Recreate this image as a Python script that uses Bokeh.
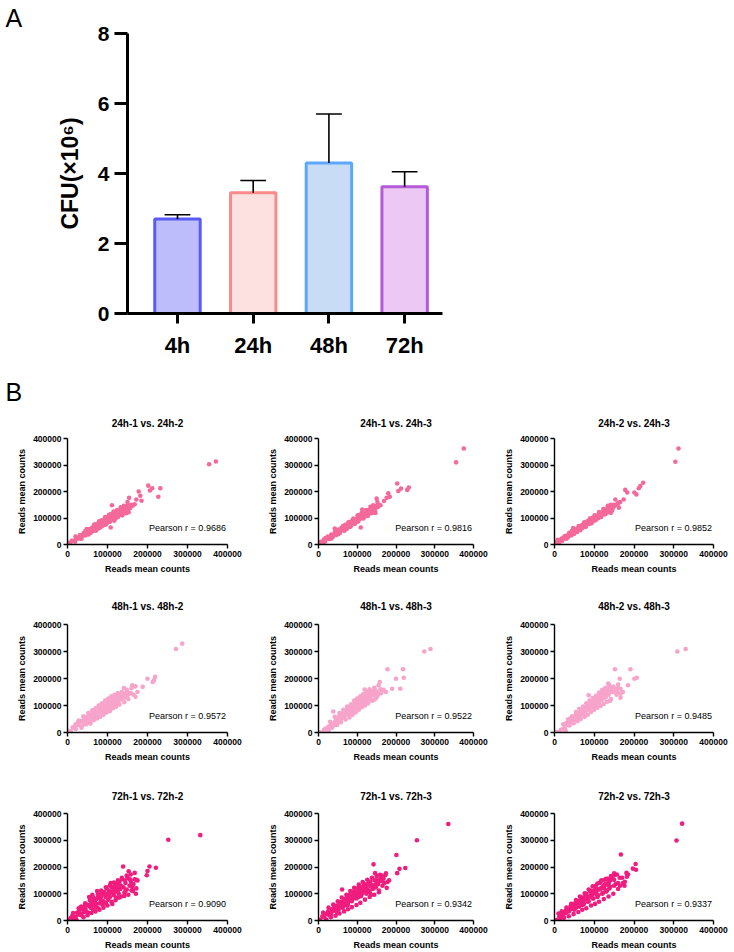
from bokeh.plotting import figure
from bokeh.layouts import column, row
from bokeh.models import ColumnDataSource, FixedTicker, BasicTickFormatter, Label, Range1d, Title
from bokeh.embed import file_html
from bokeh.resources import INLINE

FONT = "Liberation Sans"

# ---------------- Panel A: CFU per time point ----------------
times = ["4h", "24h", "48h", "72h"]
cfu_mean = [2.70, 3.45, 4.30, 3.62]      # x10^6
cfu_sd = [0.12, 0.35, 1.40, 0.43]
bar_fill = ["#bdbdfc", "#fde0e0", "#c9dcf5", "#ecc9f5"]
bar_line = ["#5a5af5", "#fb8a8a", "#5aa8fa", "#b55ad8"]

# ---------------- Panel B: replicate correlations (reads mean counts, in thousands) ----------------
pts_24h_1v2 = [(0,0),(4,6),(7,3),(11,15),(15,13),(19,11),(22,24),(26,23),(29,23),(31,36),(34,26),(37,34),(40,42),(42,36),(45,34),(47,45),(49,53),(52,43),(54,49),(56,55),(58,44),(60,56),(61,62),(63,54),(65,60),(67,54),(69,66),(70,73),(72,63),(73,61),(75,71),(77,60),(78,76),(80,72),(81,69),(83,83),(85,75),(86,70),(88,81),(90,86),(91,79),(93,93),(95,80),(97,88),(99,87),(101,95),(103,85),(105,100),(107,99),(110,94),(112,108),(114,102),(116,95),(118,108),(120,113),(123,107),(125,120),(127,112),(130,111),(132,122),(135,131),(138,117),(140,127),(143,133),(146,126),(149,140),(152,134),(108,64),(111,148),(154,176),(150,160),(168,152),(172,170),(178,200),(182,184),(185,165),(202,222),(206,204),(212,212),(227,180),(232,212),(354,303),(371,313),(145,140),(156,138),(160,150),(142,120),(136,138),(128,126),(84,90),(62,50),(92,74),(118,96),(100,102),(76,78),(88,72),(55,58)]
pts_24h_1v3 = [(0,0),(3,2),(6,10),(10,6),(14,19),(17,11),(21,22),(24,30),(27,21),(30,28),(33,38),(36,27),(38,38),(41,36),(43,49),(46,36),(48,46),(50,52),(53,46),(55,43),(57,57),(59,61),(62,57),(64,55),(66,69),(68,65),(70,59),(71,69),(73,59),(75,75),(76,72),(78,69),(80,81),(82,74),(84,71),(86,86),(87,84),(89,78),(91,94),(93,85),(95,82),(97,94),(99,94),(102,87),(104,102),(106,96),(108,107),(111,99),(113,106),(115,115),(118,104),(120,115),(122,111),(125,122),(128,112),(130,125),(133,119),(136,135),(139,128),(142,126),(145,138),(148,145),(42,60),(109,64),(113,132),(147,119),(150,173),(152,160),(155,150),(169,164),(176,176),(180,193),(184,180),(203,230),(206,202),(213,211),(229,206),(233,215),(355,310),(375,362),(60,62),(85,80),(100,98),(125,112),(140,134),(92,90),(72,66),(118,116),(130,130)]
pts_24h_2v3 = [(0,0),(2,8),(5,3),(8,18),(12,8),(15,18),(19,13),(22,22),(25,31),(28,24),(31,34),(34,27),(37,44),(40,41),(42,34),(45,49),(48,46),(50,58),(52,46),(55,56),(57,47),(60,64),(62,60),(64,57),(66,71),(68,68),(70,62),(72,74),(74,69),(76,82),(78,67),(80,79),(82,85),(84,79),(86,89),(88,78),(90,90),(92,85),(94,100),(96,92),(98,89),(100,99),(103,107),(105,97),(108,109),(110,99),(113,111),(115,118),(118,111),(121,122),(124,113),(127,125),(130,122),(133,137),(136,131),(139,126),(142,141),(146,136),(47,62),(142,120),(150,144),(153,170),(158,152),(162,139),(165,160),(174,170),(178,206),(183,196),(201,196),(206,189),(212,212),(216,221),(223,233),(304,312),(312,362),(58,55),(75,74),(91,88),(107,104),(126,124),(137,134),(66,64),(84,84)]
pts_48h_1v2 = [(0,0),(3,5),(8,4),(13,19),(17,18),(21,13),(24,29),(27,39),(30,27),(33,42),(36,26),(38,42),(41,55),(43,37),(45,46),(47,35),(49,57),(51,54),(53,38),(55,66),(57,55),(59,66),(61,52),(63,79),(65,60),(67,69),(69,56),(71,81),(73,72),(75,81),(77,60),(79,92),(81,74),(83,87),(85,103),(87,77),(89,90),(91,84),(93,102),(95,78),(97,101),(99,98),(101,89),(103,115),(105,99),(107,88),(109,115),(111,113),(113,99),(115,125),(117,108),(119,119),(121,103),(123,130),(125,123),(127,116),(129,140),(131,124),(134,137),(137,122),(140,145),(57,33),(141,165),(145,130),(150,138),(155,145),(158,146),(162,175),(165,140),(170,171),(170,132),(175,150),(188,169),(200,199),(213,187),(216,193),(219,206),(271,309),(287,329),(122,140),(132,142),(110,130),(150,150),(135,128),(90,72),(66,78),(100,106),(118,112)]
pts_48h_1v3 = [(0,0),(4,1),(14,9),(18,15),(22,12),(26,5),(26,22),(30,20),(32,29),(34,18),(36,33),(40,28),(42,36),(44,44),(46,47),(48,36),(50,40),(52,56),(54,60),(56,45),(58,50),(60,68),(62,70),(64,56),(66,60),(68,74),(70,66),(72,80),(74,82),(76,71),(78,68),(80,86),(82,84),(84,94),(86,75),(88,80),(90,101),(92,96),(94,88),(96,110),(98,106),(100,96),(102,92),(104,116),(106,120),(108,108),(110,99),(112,113),(114,126),(116,124),(118,110),(120,132),(122,112),(124,128),(126,140),(128,136),(130,122),(132,148),(134,124),(136,138),(138,150),(140,142),(38,78),(119,159),(142,152),(145,122),(148,140),(152,150),(155,175),(158,187),(162,146),(168,158),(174,150),(178,234),(190,162),(200,199),(211,162),(218,234),(220,203),(273,300),(289,309),(115,140),(125,150),(102,118),(92,104),(74,84),(84,80),(60,58),(145,160),(135,150)]
pts_48h_2v3 = [(0,0),(3,1),(10,2),(16,10),(20,12),(25,30),(28,6),(30,34),(32,36),(34,28),(36,30),(38,50),(40,52),(42,40),(44,41),(46,58),(48,44),(50,48),(52,62),(54,66),(56,50),(58,56),(60,72),(62,60),(64,59),(66,80),(68,84),(70,66),(72,70),(74,90),(76,78),(78,74),(80,96),(82,98),(84,84),(86,138),(88,86),(90,104),(92,110),(94,96),(96,94),(98,118),(100,112),(102,100),(104,98),(106,124),(108,128),(110,112),(112,108),(114,142),(116,130),(118,120),(120,148),(122,136),(124,126),(126,156),(128,140),(130,132),(132,162),(134,150),(136,140),(138,168),(135,181),(140,118),(142,160),(145,150),(148,170),(152,234),(156,140),(160,178),(164,199),(166,129),(167,144),(166,162),(172,150),(185,175),(191,234),(201,199),(207,203),(309,300),(330,309),(126,132),(118,140),(104,114),(88,98),(70,78),(130,152),(112,124),(96,102),(80,84)]
pts_72h_1v2 = [(0,0),(3,2),(8,10),(12,18),(16,6),(20,14),(24,30),(26,22),(30,38),(32,24),(34,20),(36,46),(38,44),(40,30),(42,52),(44,36),(46,34),(48,60),(50,58),(52,30),(54,88),(55,54),(58,48),(60,66),(62,96),(64,40),(66,74),(68,70),(70,52),(72,62),(74,110),(75,84),(77,46),(78,92),(80,64),(82,80),(84,100),(86,102),(88,58),(90,72),(92,106),(94,96),(96,66),(98,120),(100,96),(102,78),(104,110),(106,88),(108,140),(110,124),(112,62),(114,104),(116,94),(118,130),(120,108),(122,84),(124,136),(126,112),(128,100),(130,146),(132,118),(134,90),(136,154),(140,124),(142,104),(145,140),(148,116),(150,160),(155,130),(158,148),(160,112),(162,125),(165,136),(168,154),(171,100),(175,150),(139,202),(153,184),(171,152),(198,169),(200,185),(205,202),(221,197),(252,302),(332,319),(85,75),(105,100),(115,118),(125,120),(135,128),(95,88),(65,60),(45,44),(56,58),(145,110),(160,138),(126,86)]
pts_72h_1v3 = [(0,0),(4,3),(10,16),(14,12),(18,22),(22,26),(25,34),(28,20),(30,30),(33,24),(35,42),(38,36),(40,48),(42,50),(45,38),(47,56),(48,30),(50,46),(52,40),(54,62),(56,64),(58,54),(60,70),(61,116),(62,48),(64,52),(66,58),(68,78),(70,82),(72,72),(74,56),(76,62),(78,92),(80,96),(82,84),(84,74),(86,72),(88,80),(90,104),(92,110),(94,92),(96,86),(98,82),(100,120),(102,96),(104,88),(106,126),(108,118),(110,92),(112,100),(114,104),(116,130),(118,136),(120,110),(122,124),(124,100),(126,116),(128,138),(130,112),(132,106),(134,146),(136,96),(138,132),(140,118),(142,210),(145,150),(146,177),(148,124),(150,140),(154,136),(156,106),(159,171),(162,148),(165,130),(168,156),(172,169),(176,122),(178,144),(201,245),(203,177),(209,193),(224,196),(254,300),(335,361),(75,80),(85,90),(95,100),(105,104),(115,112),(125,130),(65,70),(55,52),(110,120),(135,128),(145,132),(158,150)]
pts_72h_2v3 = [(0,0),(5,2),(10,26),(12,14),(16,18),(20,22),(22,30),(26,26),(28,36),(30,30),(32,42),(34,40),(36,34),(38,38),(40,52),(42,56),(44,44),(46,46),(48,62),(50,40),(52,54),(54,48),(56,66),(58,58),(60,72),(62,52),(64,66),(66,80),(68,74),(70,58),(72,86),(74,62),(76,78),(78,94),(80,100),(82,84),(84,70),(86,72),(88,90),(90,108),(92,112),(94,96),(96,82),(98,82),(100,104),(102,124),(104,130),(106,110),(108,88),(110,94),(112,116),(114,140),(116,146),(118,122),(120,100),(122,104),(124,128),(126,152),(128,136),(130,108),(132,112),(134,156),(136,144),(138,120),(140,126),(145,160),(150,176),(154,136),(157,172),(160,118),(165,130),(167,247),(172,140),(177,145),(181,178),(185,172),(197,194),(204,211),(205,190),(307,299),(321,362),(70,76),(85,86),(95,100),(105,98),(115,118),(125,120),(135,132),(60,56),(45,50),(140,150),(150,130)]

# genes lying further from the diagonal in each comparison
spread_24h_1v2 = [(20,30),(35,22),(48,58),(53,38),(66,72),(71,52),(79,88),(82,64),(94,104),(96,76),(104,112),(106,86),(115,124),(117,90),(124,130),(126,104),(133,140),(137,110),(141,146),(147,118),(151,150),(153,122),(44,50),(59,48),(68,76),(89,92),(98,80),(108,114),(121,100),(131,116),(139,124),(148,128),(157,140),(163,146),(74,66),(87,86),(102,90),(113,116),(122,118),(134,118)]
spread_24h_1v3 = [(18,24),(32,22),(45,52),(51,40),(63,70),(67,52),(77,84),(81,66),(90,98),(94,78),(101,110),(103,90),(112,120),(116,98),(123,130),(127,108),(134,142),(138,118),(141,148),(146,126),(52,56),(61,54),(69,74),(79,76),(88,92),(98,88),(107,112),(117,110),(124,116),(132,126),(143,132),(149,140),(154,142),(160,148),(83,86),(96,96)]
spread_24h_2v3 = [(18,22),(30,22),(44,52),(49,40),(61,70),(65,54),(75,84),(79,68),(89,98),(93,80),(101,110),(104,92),(112,122),(117,104),(123,134),(128,114),(134,146),(138,122),(141,150),(145,128),(53,56),(63,60),(71,74),(83,88),(87,84),(95,96),(109,106),(119,120),(125,120),(131,132),(144,146),(148,150),(155,150),(160,156),(100,102),(114,112)]
spread_48h_1v2 = [(20,30),(28,44),(35,18),(40,60),(46,30),(52,72),(58,40),(62,82),(66,46),(70,90),(74,52),(78,100),(82,58),(86,108),(90,66),(94,118),(98,74),(102,126),(106,80),(110,134),(114,90),(118,140),(122,96),(126,146),(130,104),(136,150),(142,112),(148,158),(152,124),(160,164),(56,62),(64,64),(76,74),(84,84),(96,92),(104,106),(116,114),(124,128),(138,134),(146,142)]
spread_48h_1v3 = [(30,40),(36,20),(42,58),(48,28),(54,72),(58,38),(64,84),(70,48),(74,96),(80,56),(84,104),(88,66),(92,118),(96,74),(100,126),(104,84),(108,134),(112,94),(116,142),(120,100),(124,152),(128,108),(132,160),(138,118),(144,166),(150,130),(154,140),(160,160),(56,58),(66,66),(76,78),(86,88),(98,98),(106,104),(118,120),(126,124),(140,138),(148,150)]
spread_48h_2v3 = [(22,30),(26,16),(34,48),(38,26),(44,60),(48,34),(54,76),(58,42),(62,88),(66,50),(72,96),(76,58),(80,108),(84,66),(88,118),(92,76),(96,128),(100,84),(104,136),(108,92),(112,148),(116,98),(120,158),(124,106),(128,166),(132,114),(138,176),(142,124),(148,150),(154,160),(158,150),(160,165),(52,56),(64,70),(78,84),(90,96),(102,108),(114,120),(126,134),(136,146)]
spread_72h_1v2 = [(14,28),(22,4),(28,46),(34,52),(40,12),(44,64),(50,20),(56,76),(60,28),(64,88),(70,34),(76,98),(80,40),(84,112),(90,48),(96,124),(100,56),(106,132),(110,70),(116,142),(120,76),(126,150),(130,86),(136,160),(142,92),(148,168),(152,96),(158,172),(164,110),(168,178),(172,120),(60,52),(72,80),(84,90),(96,100),(108,106),(120,126),(132,132),(144,150),(156,154)]
spread_72h_1v3 = [(12,30),(20,4),(26,48),(32,12),(38,60),(44,18),(50,72),(54,26),(60,86),(66,34),(72,96),(76,42),(82,110),(86,50),(92,122),(98,58),(104,134),(108,66),(114,144),(120,78),(126,152),(132,88),(138,160),(144,96),(150,166),(156,112),(162,168),(170,140),(174,176),(182,150),(58,60),(70,74),(80,82),(90,94),(102,106),(112,118),(122,128),(134,136),(150,150),(160,160)]
spread_72h_2v3 = [(14,6),(18,34),(24,10),(30,48),(36,16),(42,62),(48,24),(54,76),(60,32),(64,90),(70,40),(76,102),(80,46),(86,116),(92,56),(96,128),(102,62),(108,138),(112,70),(118,150),(124,80),(130,156),(136,90),(142,166),(148,100),(152,170),(160,140),(170,160),(176,130),(182,164),(56,60),(66,70),(78,84),(90,92),(100,110),(112,118),(124,132),(136,138),(150,152),(164,160)]

panel_titles = [
    ["24h-1 vs. 24h-2", "24h-1 vs. 24h-3", "24h-2 vs. 24h-3"],
    ["48h-1 vs. 48h-2", "48h-1 vs. 48h-3", "48h-2 vs. 48h-3"],
    ["72h-1 vs. 72h-2", "72h-1 vs. 72h-3", "72h-2 vs. 72h-3"],
]
panel_points = [
    [pts_24h_1v2 + spread_24h_1v2, pts_24h_1v3 + spread_24h_1v3, pts_24h_2v3 + spread_24h_2v3],
    [pts_48h_1v2 + spread_48h_1v2, pts_48h_1v3 + spread_48h_1v3, pts_48h_2v3 + spread_48h_2v3],
    [pts_72h_1v2 + spread_72h_1v2, pts_72h_1v3 + spread_72h_1v3, pts_72h_2v3 + spread_72h_2v3],
]
pearson_r = [
    ["0.9686", "0.9816", "0.9852"],
    ["0.9572", "0.9522", "0.9485"],
    ["0.9090", "0.9342", "0.9337"],
]
row_colors = ["#f4699a", "#f7a3ca", "#f01c7e"]
axis_ticks = [0, 100000, 200000, 300000, 400000]

# ---------------- Panel A figure ----------------
xs = list(range(1, len(times) + 1))
pa = figure(width=734, height=372, x_range=Range1d(0.34, 4.5), y_range=Range1d(0, 8),
            output_backend="svg", toolbar_location=None,
            min_border_left=127, min_border_right=292, min_border_top=33, min_border_bottom=59)
pa.outline_line_color = None
pa.grid.visible = False

pa.title.text = "A"
pa.title.align = "left"
pa.title.vertical_align = "top"
pa.title.offset = -122
pa.title.text_font = FONT
pa.title.text_font_style = "normal"
pa.title.text_font_size = "25px"
pa.title.text_color = "black"
pa.title.standoff = 0

src_a = ColumnDataSource(dict(x=xs, top=cfu_mean, fill=bar_fill, line=bar_line,
                              err=[m + s for m, s in zip(cfu_mean, cfu_sd)]))
pa.vbar(x="x", top="top", bottom=0, width=0.6, fill_color="fill", line_color="line",
        line_width=3, source=src_a)
pa.segment(x0="x", y0="top", x1="x", y1="err", line_color="black", line_width=1.6, source=src_a)
cap = 0.17
pa.segment(x0=[x - cap for x in xs], y0=src_a.data["err"], x1=[x + cap for x in xs],
           y1=src_a.data["err"], line_color="black", line_width=1.6)

pa.xaxis.ticker = FixedTicker(ticks=xs)
pa.xaxis.major_label_overrides = {x: t for x, t in zip(xs, times)}
pa.yaxis.ticker = FixedTicker(ticks=[0, 2, 4, 6, 8])
for ax in (pa.xaxis[0], pa.yaxis[0]):
    ax.axis_line_width = 3
    ax.axis_line_color = "black"
    ax.major_tick_line_width = 3
    ax.major_tick_in = 0
    ax.minor_tick_line_color = None
    ax.major_label_text_font = FONT
    ax.major_label_text_font_style = "bold"
    ax.major_label_text_color = "black"
pa.xaxis.major_tick_out = 10
pa.xaxis.major_label_text_font_size = "22px"
pa.xaxis.major_label_standoff = 9
pa.yaxis.major_tick_out = 13
pa.yaxis.major_label_text_font_size = "21px"
pa.yaxis.major_label_standoff = 5
pa.yaxis.axis_label = "CFU(×10⁶)"
pa.yaxis.axis_label_text_font = FONT
pa.yaxis.axis_label_text_font_style = "bold"
pa.yaxis.axis_label_text_font_size = "23px"
pa.yaxis.axis_label_text_color = "black"
pa.yaxis.axis_label_standoff = 12

# ---------------- Panel B figures ----------------
col_w = [245, 245, 244]
col_left = [67, 73, 64]
col_frame = [160, 155, 159]
row_h = [212, 191, 177]
row_top = [66, 40, 38]
row_frame = [106, 108, 107]
row_title_standoff = [20, 26, 24]


def scatter_panel(title, pts, color, r_txt, ci, ri):
    w, left, fw = col_w[ci], col_left[ci], col_frame[ci]
    h, top, fh = row_h[ri], row_top[ri], row_frame[ri]
    p = figure(width=w, height=h, x_range=Range1d(0, 400000), y_range=Range1d(0, 400000),
               output_backend="svg", toolbar_location=None,
               min_border_left=left, min_border_right=w - left - fw,
               min_border_top=top, min_border_bottom=h - top - fh)
    p.outline_line_color = None
    p.grid.visible = False
    p.add_layout(Title(text=title, align="center", text_font=FONT, text_font_style="bold",
                       text_font_size="10px", text_color="black",
                       standoff=row_title_standoff[ri]), "above")

    src = ColumnDataSource(dict(x=[a * 1000 for a, b in pts], y=[b * 1000 for a, b in pts]))
    p.scatter("x", "y", source=src, size=4.6, marker="circle", fill_color=color,
              line_color=None)

    for ax in (p.xaxis[0], p.yaxis[0]):
        ax.ticker = FixedTicker(ticks=axis_ticks)
        ax.formatter = BasicTickFormatter(use_scientific=False)
        ax.axis_line_width = 1.4
        ax.axis_line_color = "black"
        ax.major_tick_line_width = 1.4
        ax.major_tick_in = 0
        ax.major_tick_out = 4
        ax.minor_tick_line_color = None
        ax.major_label_text_font = FONT
        ax.major_label_text_font_style = "bold"
        ax.major_label_text_font_size = "8.5px"
        ax.major_label_text_color = "black"
        ax.major_label_standoff = 2
        ax.axis_label = "Reads mean counts"
        ax.axis_label_text_font = FONT
        ax.axis_label_text_font_style = "bold"
        ax.axis_label_text_font_size = "9px"
        ax.axis_label_text_color = "black"
        ax.axis_label_standoff = 4
    p.yaxis.axis_label_standoff = 3

    p.add_layout(Label(x=396000, y=62000, text=f"Pearson r = {r_txt}", text_font=FONT,
                       text_font_size="9px", text_color="black", text_align="right",
                       text_baseline="middle"))
    return p


rows = []
for ri in range(3):
    figs = [scatter_panel(panel_titles[ri][ci], panel_points[ri][ci], row_colors[ri],
                          pearson_r[ri][ci], ci, ri) for ci in range(3)]
    if ri == 0:
        # section letter for the correlation panels, above the first panel title
        t = figs[0].title
        t.text = "B"
        t.align = "left"
        t.offset = -62
        t.text_font = FONT
        t.text_font_style = "normal"
        t.text_font_size = "25px"
        t.text_color = "black"
        t.standoff = 0
    rows.append(row(*figs, spacing=0))

layout = column(pa, *rows, spacing=0)

open("out.html", "w").write(file_html(layout, INLINE))
